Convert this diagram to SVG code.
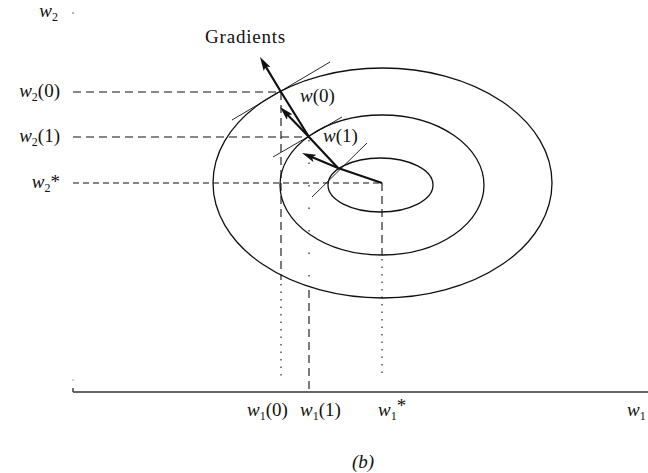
<svg xmlns="http://www.w3.org/2000/svg" width="648" height="473" viewBox="0 0 648 473">
<style>
.t{font-family:"Liberation Serif","Times New Roman",serif;font-size:19px;fill:#111}
.i{font-style:italic}
.sub{font-size:12px}
.contour{fill:none;stroke:#111;stroke-width:1.3}
.dash{fill:none;stroke:#111;stroke-width:1.1;stroke-dasharray:8 5}
.dot{fill:none;stroke:#111;stroke-width:1.1;stroke-dasharray:1.5 6}
.tan{fill:none;stroke:#111;stroke-width:0.9}
.grad{fill:none;stroke:#111;stroke-width:2.2;stroke-linejoin:round}
.axis{fill:none;stroke:#333;stroke-width:1.4}
</style>
<defs>
<marker id="ah" viewBox="0 0 14 8" refX="6" refY="4" markerWidth="14" markerHeight="8" markerUnits="userSpaceOnUse" orient="auto">
<path d="M0,0 L14,4 L0,8 L3,4 z" fill="#111"/>
</marker>
</defs>
<rect width="648" height="473" fill="#fff"/>

<g id="axes">
<line class="axis" x1="73" y1="392" x2="648" y2="392"/>
<line class="axis" x1="73" y1="388" x2="73" y2="392"/>
<circle cx="73" cy="380" r="0.6" fill="#333"/>
<circle cx="73" cy="13" r="0.7" fill="#333"/>
</g>

<g id="contours">
<ellipse class="contour" cx="382.5" cy="183" rx="169.5" ry="115"/>
<ellipse class="contour" cx="382" cy="185" rx="102" ry="70"/>
<ellipse class="contour" cx="380.5" cy="185" rx="52.5" ry="27"/>
</g>

<g id="guides">
<line class="dash" x1="73" y1="92" x2="281" y2="92"/>
<line class="dash" x1="73" y1="137" x2="309" y2="137"/>
<line class="dash" x1="73" y1="183" x2="382" y2="183" style="stroke-dasharray:6 4"/>
<line class="dash" x1="281" y1="92" x2="281" y2="280"/>
<line class="dot" x1="281" y1="284" x2="281" y2="378"/>
<line class="dot" x1="309" y1="140" x2="309" y2="288" style="stroke-dasharray:1.5 21"/>
<line class="dash" x1="309" y1="290" x2="309" y2="392"/>
<line class="dash" x1="382" y1="183" x2="382" y2="255"/>
<line class="dot" x1="382" y1="259" x2="382" y2="378"/>
</g>

<g id="tangents">
<line class="tan" x1="232" y1="120" x2="330" y2="62"/>
<line class="tan" x1="273" y1="157" x2="342" y2="117"/>
<line class="tan" x1="312" y1="197" x2="367" y2="143"/>
</g>

<g id="connectors">
<path class="grad" d="M382,183 L338,168 L309,137 L281,92 L264.1,63.9" marker-end="url(#ah)"/>
<path class="grad" d="M309,137 L285.6,112.8" marker-end="url(#ah)"/>
<path class="grad" d="M338,168 L309.4,156.1" marker-end="url(#ah)"/>
</g>

<g id="labels">
<text class="t" x="205" y="43" style="letter-spacing:0.8px">Gradients</text>
<text class="t" x="58" y="17" text-anchor="end"><tspan class="i">w</tspan><tspan class="sub" dy="4">2</tspan></text>
<text class="t" x="60" y="97" text-anchor="end"><tspan class="i">w</tspan><tspan class="sub" dy="4">2</tspan><tspan dy="-4">(0)</tspan></text>
<text class="t" x="60" y="142" text-anchor="end"><tspan class="i">w</tspan><tspan class="sub" dy="4">2</tspan><tspan dy="-4">(1)</tspan></text>
<text class="t" x="60" y="188" text-anchor="end"><tspan class="i">w</tspan><tspan class="sub" dy="4">2</tspan><tspan dy="-4">*</tspan></text>
<text class="t" x="300" y="102"><tspan class="i">w</tspan>(0)</text>
<text class="t" x="323" y="142"><tspan class="i">w</tspan>(1)</text>
<text class="t" x="247" y="416"><tspan class="i">w</tspan><tspan class="sub" dy="4">1</tspan><tspan dy="-4">(0)</tspan></text>
<text class="t" x="300" y="416"><tspan class="i">w</tspan><tspan class="sub" dy="4">1</tspan><tspan dy="-4">(1)</tspan></text>
<text class="t" x="378" y="416"><tspan class="i">w</tspan><tspan class="sub" dy="4">1</tspan><tspan dy="-8">*</tspan></text>
<text class="t" x="627" y="416"><tspan class="i">w</tspan><tspan class="sub" dy="4">1</tspan></text>
<text class="t i" x="352" y="468">(b)</text>
</g>
</svg>
